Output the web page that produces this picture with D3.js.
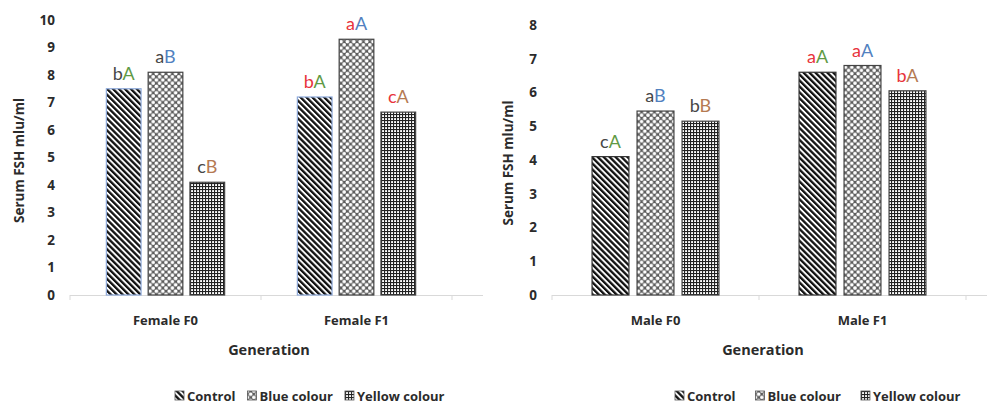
<!DOCTYPE html>
<html>
<head>
<meta charset="utf-8">
<script src="https://cdn.jsdelivr.net/npm/d3@7"></script>
<style>
  body { margin: 0; background: #fff; }
  text { font-family: "Open Sans", Lato, sans-serif; }
  text.lab { font-family: Lato, "Open Sans", sans-serif; }
</style>
</head>
<body>
<svg id="chart" width="998" height="409"></svg>
<script>
// data
var series = ["Control", "Blue colour", "Yellow colour"];

var femaleGroups = ["Female F0", "Female F1"];
var femaleControl = [7.5, 7.2];
var femaleBlue = [8.1, 9.3];
var femaleYellow = [4.1, 6.65];
var femaleLabels = [["bA", "aB", "cB"], ["bA", "aA", "cA"]];
var femaleTicks = [0, 1, 2, 3, 4, 5, 6, 7, 8, 9, 10];

var maleGroups = ["Male F0", "Male F1"];
var maleControl = [4.1, 6.6];
var maleBlue = [5.45, 6.8];
var maleYellow = [5.15, 6.05];
var maleLabels = [["cA", "aB", "bB"], ["aA", "aA", "bA"]];
var maleTicks = [0, 1, 2, 3, 4, 5, 6, 7, 8];

var axisTitle = "Generation";
var yTitle = "Serum FSH mlu/ml";

// styles
var firstLetterColours = ["#474747", "#e8333c"];   // by generation
var secondLetterColours = ["#5f9a45", "#5181c0", "#b57a52"]; // by series
var patternIds = ["pStripe", "pDots", "pGrid"];

var svg = d3.select("#chart");
var defs = svg.append("defs");

// diagonal stripes "\\"
var ps = defs.append("pattern").attr("id", "pStripe")
    .attr("patternUnits", "userSpaceOnUse")
    .attr("width", 4.2).attr("height", 4.2)
    .attr("patternTransform", "rotate(-45)");
ps.append("rect").attr("width", 4.2).attr("height", 4.2).attr("fill", "#fff");
ps.append("rect").attr("width", 2.3).attr("height", 4.2).attr("fill", "#111");

// white dots on grey, staggered
var pd = defs.append("pattern").attr("id", "pDots")
    .attr("patternUnits", "userSpaceOnUse")
    .attr("width", 6.4).attr("height", 6.4);
pd.append("rect").attr("width", 6.4).attr("height", 6.4).attr("fill", "#5c5c5c");
[[0, 0], [6.4, 0], [0, 6.4], [6.4, 6.4], [3.2, 3.2]].forEach(function (c) {
    pd.append("circle").attr("cx", c[0]).attr("cy", c[1]).attr("r", 1.85).attr("fill", "#fff");
});

// fine grid
var pg = defs.append("pattern").attr("id", "pGrid")
    .attr("patternUnits", "userSpaceOnUse")
    .attr("width", 3).attr("height", 3);
pg.append("rect").attr("width", 3).attr("height", 3).attr("fill", "#fff");
pg.append("rect").attr("width", 3).attr("height", 1.1).attr("fill", "#222");
pg.append("rect").attr("width", 1.1).attr("height", 3).attr("fill", "#222");

function panel(cfg) {
    var values = [cfg.control, cfg.blue, cfg.yellow];
    var rows = cfg.groups.map(function (g, i) {
        return { group: g, vals: values.map(function (v) { return v[i]; }), labels: cfg.labels[i], gi: i };
    });

    var y = d3.scaleLinear().domain([0, cfg.yMax]).range([cfg.y0, cfg.yTop]);
    var x0 = d3.scaleBand().domain(cfg.groups).range([cfg.xStart, cfg.xEnd]);
    var x1 = d3.scaleBand().domain(series).range([0, x0.bandwidth()])
        .paddingInner(cfg.padInner).paddingOuter(cfg.padOuter);

    var g = svg.append("g");

    // y tick labels (no axis line)
    g.selectAll(".ytick").data(cfg.ticks).enter().append("text")
        .attr("x", cfg.tickX).attr("y", function (d) { return y(d); })
        .attr("dy", "0.36em")
        .attr("text-anchor", "end")
        .style("font-size", "13.5px").style("font-weight", "bold").attr("fill", "#2b2b2b")
        .text(function (d) { return d; });

    // x axis line and ticks
    g.append("line").attr("x1", cfg.xStart).attr("x2", cfg.lineEnd)
        .attr("y1", cfg.y0 + 0.5).attr("y2", cfg.y0 + 0.5)
        .attr("stroke", "#d9d9d9").attr("stroke-width", 1);
    var bounds = [cfg.xStart].concat(cfg.groups.map(function (d) { return x0(d) + x0.bandwidth(); }));
    g.selectAll(".xtick").data(bounds).enter().append("line")
        .attr("x1", function (d) { return d; }).attr("x2", function (d) { return d; })
        .attr("y1", cfg.y0).attr("y2", cfg.y0 + 5)
        .attr("stroke", "#d9d9d9");

    g.selectAll(".xlab").data(cfg.groups).enter().append("text")
        .attr("x", function (d) { return x0(d) + x0.bandwidth() / 2; })
        .attr("y", cfg.y0 + 30)
        .attr("text-anchor", "middle")
        .style("font-size", "13px").style("font-weight", "bold").attr("fill", "#2b2b2b")
        .text(function (d) { return d; });

    g.append("text").attr("x", cfg.genX).attr("y", cfg.y0 + 60)
        .attr("text-anchor", "middle")
        .style("font-size", "14.5px").style("font-weight", "bold").attr("fill", "#2b2b2b")
        .text(axisTitle);

    g.append("text")
        .attr("transform", "translate(" + cfg.titleX + "," + ((cfg.y0 + cfg.yTop) / 2 + 3) + ") rotate(-90)")
        .attr("text-anchor", "middle")
        .style("font-size", "13.5px").style("font-weight", "bold").attr("fill", "#2b2b2b")
        .text(yTitle);

    var grp = g.selectAll(".grp").data(rows).enter().append("g")
        .attr("transform", function (d) { return "translate(" + x0(d.group) + ",0)"; });

    grp.selectAll("rect").data(function (d) { return d.vals.map(function (v, i) { return { v: v, s: i }; }); })
        .enter().append("rect")
        .attr("x", function (d) { return x1(series[d.s]); })
        .attr("y", function (d) { return y(d.v); })
        .attr("width", x1.bandwidth())
        .attr("height", function (d) { return y(0) - y(d.v); })
        .attr("fill", function (d) { return "url(#" + patternIds[d.s] + ")"; })
        .attr("stroke", function (d) { return d.s === 0 ? cfg.controlStroke : "#444"; })
        .attr("stroke-width", 1.2);

    var lab = grp.selectAll(".lab").data(function (d) {
        return d.labels.map(function (t, i) { return { t: t, s: i, v: d.vals[i], gi: d.gi }; });
    }).enter().append("text")
        .attr("class", "lab")
        .attr("x", function (d) { return x1(series[d.s]) + x1.bandwidth() / 2; })
        .attr("y", function (d) { return y(d.v) - 9; })
        .attr("text-anchor", "middle")
        .style("font-size", "18px");
    lab.append("tspan").attr("fill", function (d) { return firstLetterColours[d.gi]; })
        .text(function (d) { return d.t[0]; });
    lab.append("tspan").attr("fill", function (d) { return secondLetterColours[d.s]; })
        .text(function (d) { return d.t[1]; });

    // legend
    var lx = cfg.legendX;
    series.forEach(function (s, i) {
        var it = g.append("g").attr("transform", "translate(" + lx + ",391)");
        it.append("rect").attr("width", 9).attr("height", 9)
            .attr("fill", "url(#" + patternIds[i] + ")")
            .attr("stroke", "#555").attr("stroke-width", 0.8);
        var t = it.append("text").attr("x", 12).attr("y", 9.5)
            .style("font-size", "13px").style("font-weight", "bold").attr("fill", "#2b2b2b")
            .text(s);
        lx += 12 + t.node().getComputedTextLength() + cfg.legendGap;
    });
}

panel({
    groups: femaleGroups, control: femaleControl, blue: femaleBlue, yellow: femaleYellow,
    labels: femaleLabels, ticks: femaleTicks, yMax: 10, y0: 295, yTop: 20,
    xStart: 70, xEnd: 452, lineEnd: 483, padInner: 0.17, padOuter: 0.87,
    tickX: 55, titleX: 24, genX: 269, controlStroke: "#8eaadb",
    legendX: 175, legendGap: 12
});

panel({
    groups: maleGroups, control: maleControl, blue: maleBlue, yellow: maleYellow,
    labels: maleLabels, ticks: maleTicks, yMax: 8, y0: 295, yTop: 25,
    xStart: 552, xEnd: 966, lineEnd: 987, padInner: 0.18, padOuter: 0.89,
    tickX: 537, titleX: 513, genX: 763, controlStroke: "#333",
    legendX: 675, legendGap: 20
});
</script>
</body>
</html>
